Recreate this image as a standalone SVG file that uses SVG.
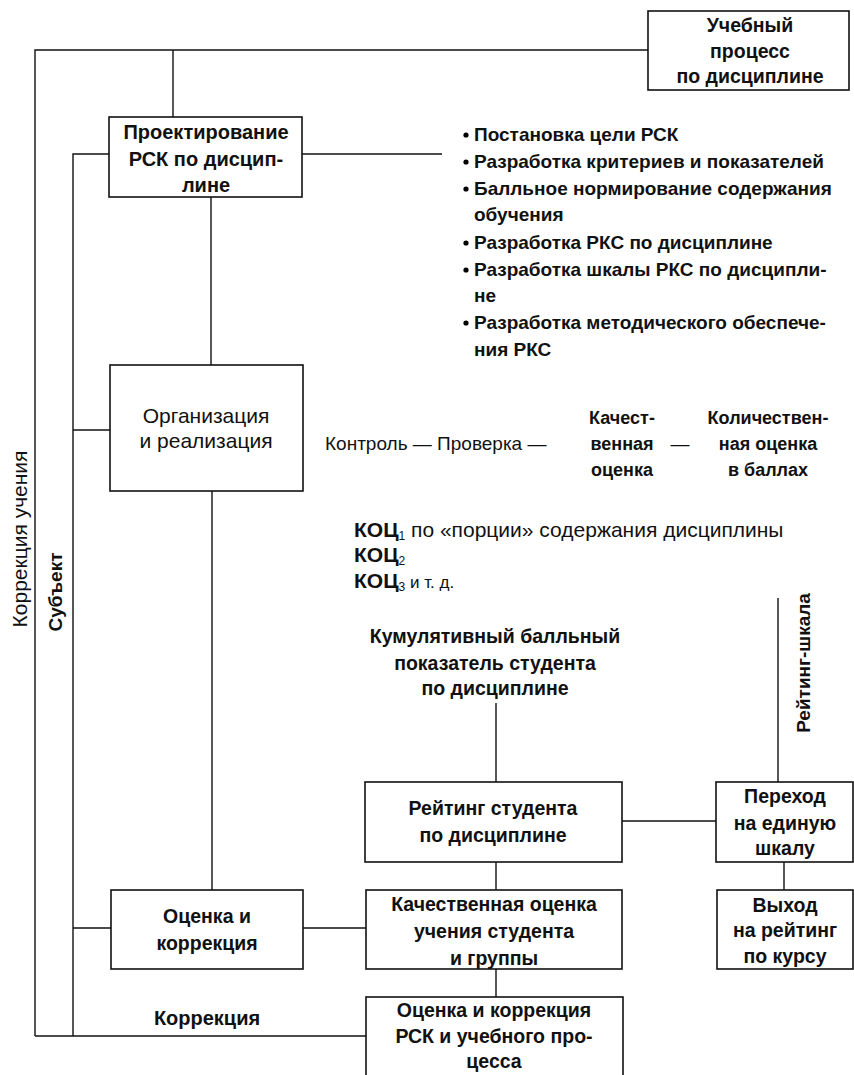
<svg xmlns="http://www.w3.org/2000/svg" width="854" height="1075" viewBox="0 0 854 1075">
<style>
text{font-family:"Liberation Sans",Arial,sans-serif;fill:#111;}
.b{font-weight:bold;font-size:19.5px;}
.bl{font-weight:bold;font-size:19px;}
.r{font-weight:normal;font-size:19px;}
.c{text-anchor:middle;}
.box{fill:#fff;stroke:#111;stroke-width:1.6;}
.ln{fill:none;stroke:#111;stroke-width:1.4;}
</style>
<rect width="854" height="1075" fill="#fff"/>
<g id="connectors">
<path class="ln" d="M35,1036 V50 H648"/>
<path class="ln" d="M173,50 V117"/>
<path class="ln" d="M109,154 H73 V1036"/>
<path class="ln" d="M302,154 H442"/>
<path class="ln" d="M211,197 V365"/>
<path class="ln" d="M73,430 H110"/>
<path class="ln" d="M212,491 V890"/>
<path class="ln" d="M73,928 H111"/>
<path class="ln" d="M303,928 H366"/>
<path class="ln" d="M35,1036 H366"/>
<path class="ln" d="M496,703 V782"/>
<path class="ln" d="M622,821 H716"/>
<path class="ln" d="M496,862 V890"/>
<path class="ln" d="M496,969 V997"/>
<path class="ln" d="M784,862 V890"/>
<path class="ln" d="M778,598 V782"/>
</g>
<g id="uchebny">
<rect class="box" x="648" y="11" width="201" height="79"/>
<text class="b c" x="750" y="32">Учебный</text>
<text class="b c" x="750" y="58">процесс</text>
<text class="b c" x="750" y="83">по дисциплине</text>
</g>
<g id="proekt">
<rect class="box" x="109" y="117" width="193" height="80"/>
<text class="b c" x="206" y="139" style="font-size:20px">Проектирование</text>
<text class="b c" x="206" y="166" style="font-size:20px">РСК по дисцип-</text>
<text class="b c" x="206" y="192" style="font-size:20px">лине</text>
</g>
<g id="bullets">
<circle cx="466" cy="135" r="2.6"/>
<circle cx="466" cy="162" r="2.6"/>
<circle cx="466" cy="189" r="2.6"/>
<circle cx="466" cy="243" r="2.6"/>
<circle cx="466" cy="270" r="2.6"/>
<circle cx="466" cy="323" r="2.6"/>
<text class="bl" x="474" y="141">Постановка цели РСК</text>
<text class="bl" x="474" y="168">Разработка критериев и показателей</text>
<text class="bl" x="474" y="195">Балльное нормирование содержания</text>
<text class="bl" x="474" y="221">обучения</text>
<text class="bl" x="474" y="249">Разработка РКС по дисциплине</text>
<text class="bl" x="474" y="276">Разработка шкалы РКС по дисципли-</text>
<text class="bl" x="474" y="302">не</text>
<text class="bl" x="474" y="329">Разработка методического обеспече-</text>
<text class="bl" x="474" y="356">ния РКС</text>
</g>
<g id="org">
<rect class="box" x="110" y="365" width="193" height="126"/>
<text class="r c" x="206" y="423" style="font-size:21px">Организация</text>
<text class="r c" x="206" y="448" style="font-size:21px">и реализация</text>
</g>
<g id="control">
<text class="r" x="325" y="450">Контроль — Проверка —</text>
<text class="b c" x="622" y="424" style="font-size:18px">Качест-</text>
<text class="b c" x="622" y="450" style="font-size:18px">венная</text>
<text class="b c" x="622" y="476" style="font-size:18px">оценка</text>
<text class="r c" x="680" y="450">—</text>
<text class="b c" x="768" y="424" style="font-size:18px">Количествен-</text>
<text class="b c" x="768" y="450" style="font-size:18px">ная оценка</text>
<text class="b c" x="768" y="476" style="font-size:18px">в баллах</text>
</g>
<g id="koc">
<text class="r" x="354" y="537" style="font-size:21px"><tspan font-weight="bold">КОЦ</tspan><tspan font-size="12" dy="3">1</tspan><tspan dy="-3"> по «порции» содержания дисциплины</tspan></text>
<text class="r" x="354" y="562" style="font-size:21px"><tspan font-weight="bold">КОЦ</tspan><tspan font-size="12" dy="3">2</tspan></text>
<text class="r" x="354" y="588" style="font-size:21px"><tspan font-weight="bold">КОЦ</tspan><tspan font-size="12" dy="3">3</tspan><tspan dy="-3" font-size="17"> и т. д.</tspan></text>
</g>
<g id="kumul">
<text class="b c" x="495" y="643">Кумулятивный балльный</text>
<text class="b c" x="495" y="670">показатель студента</text>
<text class="b c" x="495" y="695">по дисциплине</text>
</g>
<g id="reiting">
<rect class="box" x="365" y="782" width="257" height="80"/>
<text class="b c" x="493" y="815">Рейтинг студента</text>
<text class="b c" x="493" y="842">по дисциплине</text>
</g>
<g id="perehod">
<rect class="box" x="716" y="782" width="137" height="80"/>
<text class="b c" x="785" y="803">Переход</text>
<text class="b c" x="785" y="830">на единую</text>
<text class="b c" x="785" y="855">шкалу</text>
</g>
<g id="kach">
<rect class="box" x="366" y="890" width="256" height="79"/>
<text class="b c" x="494" y="911">Качественная оценка</text>
<text class="b c" x="494" y="938">учения студента</text>
<text class="b c" x="494" y="965">и группы</text>
</g>
<g id="vyhod">
<rect class="box" x="717" y="890" width="136" height="79"/>
<text class="b c" x="785" y="912">Выход</text>
<text class="b c" x="785" y="937">на рейтинг</text>
<text class="b c" x="785" y="963">по курсу</text>
</g>
<g id="ocenka">
<rect class="box" x="111" y="890" width="192" height="79"/>
<text class="b c" x="207" y="923">Оценка и</text>
<text class="b c" x="207" y="950">коррекция</text>
</g>
<g id="ocenka-rsk">
<rect class="box" x="366" y="997" width="257" height="90"/>
<text class="b c" x="494" y="1017">Оценка и коррекция</text>
<text class="b c" x="494" y="1043">РСК и учебного про-</text>
<text class="b c" x="494" y="1068">цесса</text>
</g>
<g id="labels">
<text class="b c" x="207" y="1025" style="font-size:20px">Коррекция</text>
<text class="r c" transform="translate(27,539) rotate(-90)" style="font-size:21px">Коррекция учения</text>
<text class="bl c" transform="translate(62,592) rotate(-90)">Субъект</text>
<text class="bl c" transform="translate(810,663) rotate(-90)">Рейтинг-шкала</text>
</g>
</svg>
